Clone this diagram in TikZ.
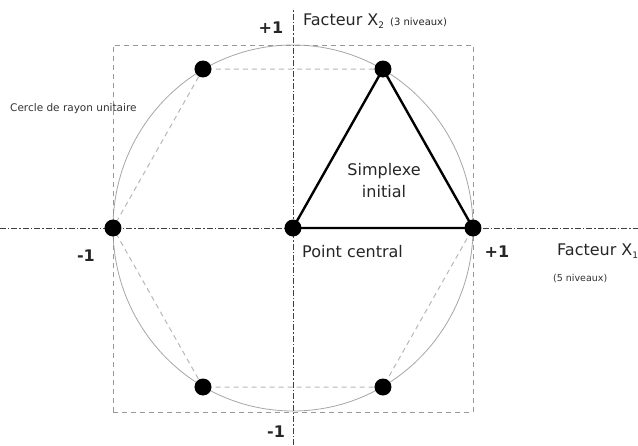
\documentclass[tikz,border=0pt]{standalone}
\usepackage{fontspec}
\setmainfont{DejaVu Sans}
\usetikzlibrary{backgrounds}
\begin{document}
\begin{tikzpicture}[x=1pt,y=1pt,
  dot/.style={circle,fill=black,inner sep=0pt,minimum size=17pt},
  lbl/.style={text=black!85,inner sep=0pt,font=\fontsize{16}{20}\selectfont},
  numlbl/.style={text=black!85,inner sep=0pt,font=\fontsize{16}{20}\selectfont\bfseries},
  small/.style={text=black!80,inner sep=0pt,font=\fontsize{10}{12}\selectfont},
  axisline/.style={black!75,line width=0.9pt,dash pattern=on 6pt off 2pt on 1.5pt off 2pt},
  gridline/.style={black!40,line width=0.8pt,dash pattern=on 5pt off 4pt},
  hexline/.style={black!28,line width=1pt,dash pattern=on 5pt off 4pt},
  simplexline/.style={black,line width=2.4pt}]
\useasboundingbox (-293,-217) rectangle (345,228);
% points
\node[dot] (c) at (0,0) {};
\node[dot] (p0) at (180,0) {};
\node[dot] (p1) at (90,159) {};
\node[dot] (p2) at (-90,159) {};
\node[dot] (p3) at (-180,0) {};
\node[dot] (p4) at (-90,-159) {};
\node[dot] (p5) at (90,-159) {};
\begin{scope}[on background layer]
\fill[white] (-293,-217) rectangle (345,228);
% unit circle and square
\draw[black!35,line width=0.8pt] (c.center) ellipse [x radius=180, y radius=183];
\draw[gridline] (-180,-184) rectangle (180,183);
% axes
\coordinate (xl) at (-293,0);
\coordinate (xr) at (345,0);
\coordinate (yt) at (0,220);
\coordinate (yb) at (0,-217);
\draw[axisline] (xl) -- (xr);
\draw[axisline] (yb) -- (yt);
% hexagon
\draw[hexline] (p1.center) -- (p2.center) -- (p3.center) -- (p4.center) -- (p5.center) -- (p0.center);
% simplex
\draw[simplexline,line join=miter] (c.center) -- (p0.center) -- (p1.center) -- cycle;
\end{scope}
% labels
\node[numlbl] (ytop) at (-22,200) {+1};
\node[lbl,anchor=west] (fx2) at (10,207) {Facteur X\raisebox{-0.35ex}{\fontsize{9}{10}\selectfont 2}\hspace{6pt}{\fontsize{10}{12}\selectfont(3 niveaux)}};
\node[numlbl] (xright) at (204,-24) {+1};
\node[lbl,anchor=west] (fx1) at (264,-23) {Facteur X\raisebox{-0.35ex}{\fontsize{9}{10}\selectfont 1}};
\node[small,anchor=west,font=\fontsize{9.5}{12}\selectfont] (niv5) at (260,-51) {(5 niveaux)};
\node[lbl,anchor=west] (pc) at (9,-24) {Point central};
\node[lbl,align=center,font=\fontsize{16}{22}\selectfont] (simp) at (91,47) {Simplexe\\initial};
\node[small,anchor=west,font=\fontsize{10.5}{12}\selectfont] (cercle) at (-283,119) {Cercle de rayon unitaire};
\node[numlbl] (xleft) at (-207,-28) {-1};
\node[numlbl] (ybot) at (-17,-204) {-1};
\end{tikzpicture}
\end{document}
